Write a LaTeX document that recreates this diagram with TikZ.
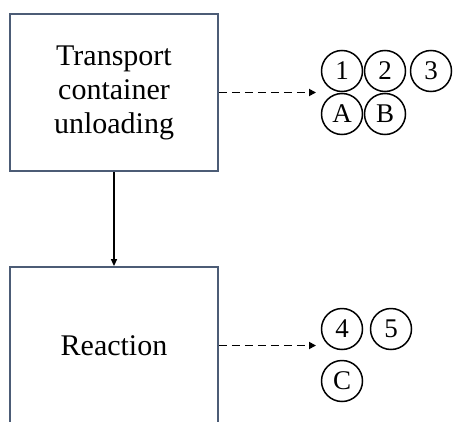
\documentclass[tikz,border=0pt]{standalone}
\usepackage{fontspec}
\setmainfont{Liberation Serif}
\usetikzlibrary{arrows.meta}
\definecolor{boxline}{RGB}{76,92,118}
\begin{document}
\begin{tikzpicture}[x=1pt,y=1pt,
  procbox/.style={draw=boxline,line width=1.8pt,minimum width=208pt,minimum height=157pt,inner sep=0pt,align=center,font=\fontsize{30}{34}\selectfont},
  tag/.style={circle,draw=black,line width=1.5pt,minimum size=41pt,inner sep=0pt,font=\fontsize{27}{27}\selectfont},
  dasharrow/.style={line width=1.8pt,dash pattern=on 8pt off 5pt,-{Triangle[length=7pt,width=7pt]}},
  solidarrow/.style={line width=1.4pt,-{Triangle[length=7pt,width=6pt]}}]
\useasboundingbox (0,0) rectangle (454,421);
\clip (0,0) rectangle (454,421);
\node[procbox] (box1) at (114,328.5) {Transport\\container\\unloading};
\node[procbox] (box2) at (114,75.5) {Reaction};
\coordinate (t1) at (316,328.5);
\coordinate (t2) at (316,75.5);
\draw[solidarrow] (box1.south) -- (box2.north);
\draw[dasharrow] (box1.east) -- (t1);
\draw[dasharrow] (box2.east) -- (t2);
\node[tag] (c1) at (342,350) {1};
\node[tag] (c2) at (385,350) {2};
\node[tag] (c3) at (431,350) {3};
\node[tag] (cA) at (342,307) {A};
\node[tag] (cB) at (385,307) {B};
\node[tag] (c4) at (342,92) {4};
\node[tag] (c5) at (391,92) {5};
\node[tag] (cC) at (342,40) {C};
\end{tikzpicture}
\end{document}
